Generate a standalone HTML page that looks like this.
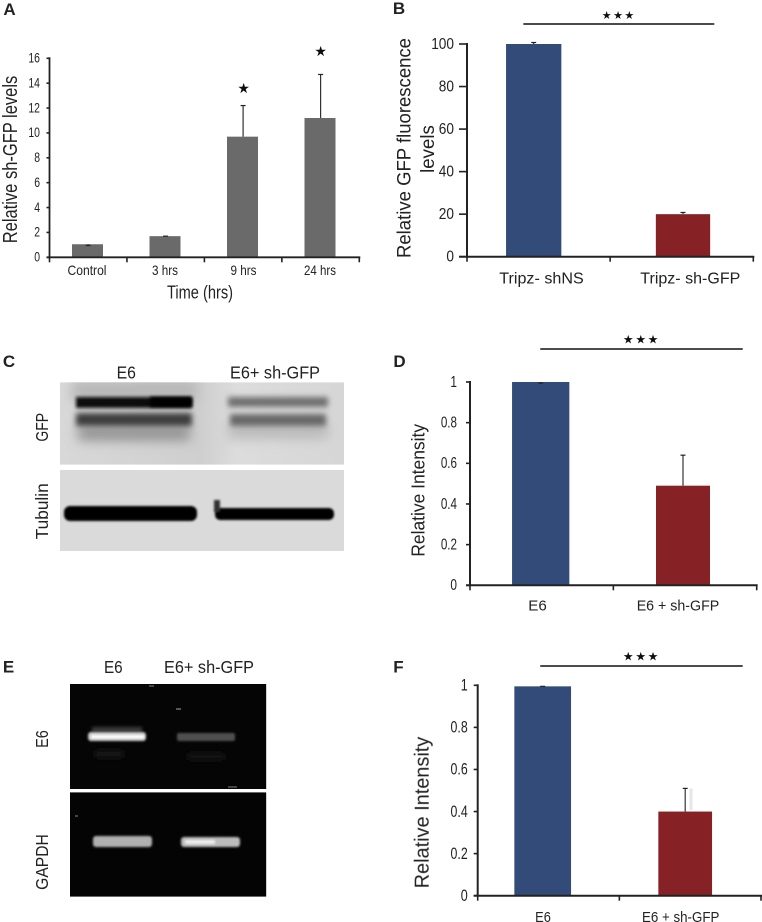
<!DOCTYPE html>
<html lang="en">
<head>
<meta charset="utf-8">
<title>sh-GFP knockdown figure</title>
<style>
html,body{margin:0;padding:0;background:#fff;}
svg{display:block;}
text{font-family:"Liberation Sans",sans-serif;fill:#222;}
</style>
</head>
<body>
<svg id="figure" xmlns="http://www.w3.org/2000/svg" width="762" height="922" viewBox="0 0 762 922">
  <defs>
    <filter id="soft" filterUnits="userSpaceOnUse" x="0" y="0" width="762" height="922"><feGaussianBlur stdDeviation="0.35"/></filter>
    <filter id="b0" filterUnits="userSpaceOnUse" x="0" y="0" width="762" height="922"><feGaussianBlur stdDeviation="1.1"/></filter>
    <filter id="b1" filterUnits="userSpaceOnUse" x="0" y="0" width="762" height="922"><feGaussianBlur stdDeviation="1.6"/></filter>
    <filter id="b2" filterUnits="userSpaceOnUse" x="0" y="0" width="762" height="922"><feGaussianBlur stdDeviation="3"/></filter>
    <filter id="b3" filterUnits="userSpaceOnUse" x="0" y="0" width="762" height="922"><feGaussianBlur stdDeviation="6"/></filter>
    <clipPath id="clipC1"><rect x="60" y="382.3" width="284" height="82.4"/></clipPath>
    <clipPath id="clipC2"><rect x="60" y="470" width="284" height="81"/></clipPath>
    <clipPath id="clipE1"><rect x="70" y="684" width="196.3" height="105"/></clipPath>
    <clipPath id="clipE2"><rect x="70" y="792.3" width="196.3" height="104.4"/></clipPath>
    <linearGradient id="c1bg" x1="0" x2="1" y1="0" y2="0">
      <stop offset="0" stop-color="#d8d8d8"/><stop offset="0.5" stop-color="#cfcfcf"/><stop offset="0.62" stop-color="#dcdcdc"/><stop offset="1" stop-color="#d6d6d6"/>
    </linearGradient>
  </defs>

  <g id="gels">
    <g clip-path="url(#clipC1)">
      <rect x="60" y="382.3" width="284" height="82.4" fill="url(#c1bg)"/>
      <rect x="72" y="380" width="125" height="22" fill="#b8b8b8" filter="url(#b3)"/>
      <rect x="78" y="426" width="112" height="14" fill="#8c8c8c" filter="url(#b3)"/>
      <rect x="228" y="424" width="100" height="14" fill="#b6b6b6" filter="url(#b3)"/>
      <rect x="76" y="413" width="116" height="13" fill="#3c3c3c" filter="url(#b2)"/>
      <rect x="76" y="397" width="116" height="11" fill="#0c0c0c" filter="url(#b1)"/>
      <rect x="150" y="397" width="42" height="10" fill="#000" filter="url(#b1)"/>
      <rect x="228" y="397" width="100" height="10" fill="#6e6e6e" filter="url(#b2)"/>
      <rect x="230" y="414" width="96" height="12" fill="#686868" filter="url(#b2)"/>
    </g>
    <g clip-path="url(#clipC2)">
      <rect x="60" y="470" width="284" height="81" fill="#dadada"/>
      <rect x="64" y="506" width="133" height="15" rx="6" fill="#000" filter="url(#b0)"/>
      <rect x="215" y="508" width="119" height="12" rx="5" fill="#000" filter="url(#b0)"/>
      <rect x="214" y="500" width="6" height="12" fill="#333" filter="url(#b0)"/>
    </g>
    <g clip-path="url(#clipE1)">
      <rect x="70" y="684" width="196.3" height="105" fill="#050505"/>
      <rect x="92" y="727" width="50" height="5" fill="#3a3a3a" filter="url(#b1)"/>
      <rect x="88" y="732" width="58" height="9" rx="3" fill="#c8c8c8" filter="url(#b0)"/>
      <rect x="91" y="735" width="53" height="3.5" fill="#fff" filter="url(#b0)"/>
      <rect x="177" y="733" width="58" height="8" rx="2" fill="#505050" filter="url(#b0)"/>
      <rect x="95" y="750" width="28" height="8" fill="#151515" filter="url(#b2)"/>
      <rect x="188" y="753" width="36" height="7" fill="#181818" filter="url(#b2)"/>
      <rect x="176" y="708" width="5" height="2" fill="#555" filter="url(#soft)"/>
      <rect x="149" y="685" width="5" height="2" fill="#444"/>
      <rect x="228" y="786" width="9" height="2" fill="#444"/>
    </g>
    <g clip-path="url(#clipE2)">
      <rect x="70" y="792.3" width="196.3" height="104.4" fill="#040404"/>
      <rect x="93" y="836" width="59" height="11" rx="3" fill="#b0b0b0" filter="url(#b0)"/>
      <rect x="181" y="837" width="59" height="10" rx="3" fill="#bcbcbc" filter="url(#b0)"/>
      <rect x="185" y="840" width="30" height="4" fill="#eeeeee" filter="url(#b0)"/>
      <rect x="75" y="815" width="3" height="2" fill="#444"/>
    </g>
  </g>

  <g id="charts" filter="url(#soft)"></g>
  <g id="labels" filter="url(#soft)"></g>
</svg>

<script>
/* Panel A */
var aCategories = ['Control', '3 hrs', '9 hrs', '24 hrs'];
var aValues = [1.05, 1.7, 9.7, 11.2];
var aErrorTops = [0.95, 1.7, 12.2, 14.7];
var aTicks = ['0', '2', '4', '6', '8', '10', '12', '14', '16'];

/* Panel B */
var bCategories = ['Tripz- shNS', 'Tripz- sh-GFP'];
var bValues = [100, 20];
var bErrorTops = [100.7, 20.8];
var bTicks = ['0', '20', '40', '60', '80', '100'];

/* Panel D */
var dCategories = ['E6', 'E6 + sh-GFP'];
var dValues = [1, 0.49];
var dErrorTops = [0.995, 0.64];
var dTicks = ['0', '0.2', '0.4', '0.6', '0.8', '1'];

/* Panel F */
var fCategories = ['E6', 'E6 + sh-GFP'];
var fValues = [0.995, 0.40];
var fErrorTops = [0.995, 0.51];
var fTicks = ['0', '0.2', '0.4', '0.6', '0.8', '1'];

var NS = 'http://www.w3.org/2000/svg';
var chartsRoot = document.getElementById('charts');
var labelsRoot = document.getElementById('labels');

function mk(parent, tag, attrs) {
  var el = document.createElementNS(NS, tag);
  for (var k in attrs) el.setAttribute(k, attrs[k]);
  parent.appendChild(el);
  return el;
}

function line(parent, x1, y1, x2, y2, color, width) {
  return mk(parent, 'line', {x1: x1, y1: y1, x2: x2, y2: y2, stroke: color, 'stroke-width': width});
}

function txt(parent, str, cx, cy, size, length, rotated, anchor, weight) {
  var attrs = {
    x: cx, y: cy, dy: '0.35em', 'font-size': size,
    'text-anchor': anchor || 'middle'
  };
  if (length) {
    attrs.textLength = length;
    attrs.lengthAdjust = 'spacingAndGlyphs';
  }
  if (rotated) attrs.transform = 'rotate(-90 ' + cx + ' ' + cy + ')';
  if (weight) attrs['font-weight'] = weight;
  var el = mk(parent, 'text', attrs);
  el.textContent = str;
  return el;
}

function drawChart(cfg) {
  var g = mk(chartsRoot, 'g', {});
  
  

  var yMax = Number(cfg.ticks[cfg.ticks.length - 1]);
  function yScale(v) { return cfg.y0 - (v / yMax) * (cfg.y0 - cfg.yTop); }
  function xScale(i) { return cfg.c0 + i * cfg.step; }

  cfg.values.forEach(function (v, i) {
    var w = cfg.barWidths[i];
    var cx = xScale(i);
    var bar = mk(g, 'rect', {
      x: cx - w / 2, y: yScale(v), width: w, height: cfg.y0 - yScale(v),
      fill: cfg.colors[i]
    });
    
    

    var ex = cx + cfg.errOffset;
    var top = yScale(cfg.errorTops[i]);
    var stem = line(g, ex, yScale(v), ex, top, '#333', 1.2);
    
    
    var cap = line(g, ex - 2.5, top, ex + 2.5, top, '#222', 1.2);
    
    

    var lab = txt(g, cfg.categories[i], cfg.labelX[i], cfg.labelY, cfg.labelSize, cfg.labelW[i]);
    
    
  });

  var yAxis = line(g, cfg.x0, cfg.yTop - 1, cfg.x0, cfg.y0 + 1, '#222', cfg.axisW);
  
  
  var xAxis = line(g, cfg.x0 - cfg.tickLen, cfg.y0, cfg.xEnd + 1, cfg.y0, '#222', cfg.axisW);
  
  

  cfg.ticks.forEach(function (t) {
    var ty = yScale(Number(t));
    var tick = line(g, cfg.x0 - cfg.tickLen, ty, cfg.x0, ty, '#222', 1.6);
    
    
    var lab = txt(g, t, cfg.tickRight, ty - 0.5, cfg.tickSize, t.length * cfg.tickCharW - (t.indexOf('.') >= 0 ? cfg.tickCharW * 0.55 : 0), false, 'end');
    
    
  });

  var n = cfg.categories.length;
  for (var i = 0; i <= n; i++) {
    var tx = cfg.x0 + (cfg.xEnd - cfg.x0) * i / n;
    var xt = line(g, tx, cfg.y0, tx, cfg.y0 + 5, '#222', 1.6);
    
    
  }
}

var BLUE = '#334b78', RED = '#862326', GREY = '#6b6b6b';

drawChart({
  name: 'chart-a-sh-gfp-levels', categories: aCategories, values: aValues, errorTops: aErrorTops, ticks: aTicks,
  x0: 49.5, xEnd: 359.3, y0: 257.3, yTop: 58.3, c0: 87.5, step: 77.5,
  barWidths: [31, 31, 31, 31], colors: [GREY, GREY, GREY, GREY], errOffset: 0.6,
  axisW: 1.8, tickLen: 3,
  tickRight: 40, tickSize: 13.5, tickCharW: 5.8,
  labelX: [87, 165, 243.5, 320], labelW: [39, 26, 26, 32], labelY: 270, labelSize: 14
});
drawChart({
  name: 'chart-b-gfp-fluorescence', categories: bCategories, values: bValues, errorTops: bErrorTops, ticks: bTicks,
  x0: 467, xEnd: 753.3, y0: 256.7, yTop: 44, c0: 533.7, step: 149.3,
  barWidths: [55.3, 54.3], colors: [BLUE, RED], errOffset: 0,
  axisW: 2, tickLen: 8,
  tickRight: 454, tickSize: 15.5, tickCharW: 7.6,
  labelX: [541.5, 690.3], labelW: [84.4, 100], labelY: 278, labelSize: 16
});
drawChart({
  name: 'chart-d-relative-intensity', categories: dCategories, values: dValues, errorTops: dErrorTops, ticks: dTicks,
  x0: 470, xEnd: 756.7, y0: 585.3, yTop: 382, c0: 540.7, step: 142.3,
  barWidths: [57.3, 54], colors: [BLUE, RED], errOffset: 0,
  axisW: 2, tickLen: 4,
  tickRight: 457, tickSize: 15.5, tickCharW: 6.6,
  labelX: [537.5, 678], labelW: [18.5, 82.6], labelY: 605, labelSize: 15
});
drawChart({
  name: 'chart-f-relative-intensity', categories: fCategories, values: fValues, errorTops: fErrorTops, ticks: fTicks,
  x0: 477.7, xEnd: 761, y0: 895.7, yTop: 685.3, c0: 542.7, step: 142.5,
  barWidths: [56.7, 53.7], colors: [BLUE, RED], errOffset: 0,
  axisW: 2, tickLen: 4,
  tickRight: 467.7, tickSize: 16.5, tickCharW: 7,
  labelX: [543, 680.7], labelW: [15.7, 77.3], labelY: 916.5, labelSize: 15
});

/* Faint ghost error line beside the panel F red bar */
var ghost = line(chartsRoot, 691, 788.5, 691, 810, '#e6e6e6', 3);



/* Significance brackets */
var brB = line(labelsRoot, 523.3, 24, 714.3, 24, '#111', 1.4);


var brD = line(labelsRoot, 540.3, 349, 742.7, 349, '#111', 1.4);


var brF = line(labelsRoot, 540.3, 666, 742.7, 666, '#111', 1.4);



var starSpots = [
  [243.7, 88, 14], [320.7, 51, 14],
  [606.7, 15, 11], [618, 15, 11], [629.3, 15, 11],
  [628.3, 339.5, 12], [640.7, 339.5, 12], [653, 339.5, 12],
  [628.3, 656.5, 12], [640.7, 656.5, 12], [653, 656.5, 12]
];
starSpots.forEach(function (s) {
  var st = mk(labelsRoot, 'text', {x: s[0], y: s[1], dy: '0.35em', 'font-size': s[2], 'text-anchor': 'middle', style: 'font-family:"DejaVu Sans",sans-serif;fill:#111'});
  st.textContent = '\u2605';
  
  
});

/* Panel letters */
var panelLetters = [['A', 9.5, 9], ['B', 399, 8], ['C', 9, 361], ['D', 399.5, 361], ['E', 8.5, 666.5], ['F', 398.5, 666.5]];
panelLetters.forEach(function (p) {
  var l = txt(labelsRoot, p[0], p[1], p[2], 17, 0, false, 'middle', 'bold');
  
  
});

/* Axis titles */
var t1 = txt(labelsRoot, 'Relative sh-GFP levels', 10, 159.5, 20, 167.5, true);


var t2 = txt(labelsRoot, 'Time (hrs)', 200, 292, 18, 66);


var t3 = txt(labelsRoot, 'Relative GFP fluorescence', 404, 148, 19, 220, true);


var t4 = txt(labelsRoot, 'levels', 427.5, 149, 19, 47.7, true);


var t5 = txt(labelsRoot, 'Relative Intensity', 418, 490.3, 18, 132.7, true);


var t6 = txt(labelsRoot, 'Relative Intensity', 421.7, 812.5, 20, 151.6, true);



/* Gel labels */
var g1 = txt(labelsRoot, 'E6', 126.3, 372.5, 17.5, 19.3);


var g2 = txt(labelsRoot, 'E6+ sh-GFP', 275, 372.5, 17.5, 90);


var g3 = txt(labelsRoot, 'GFP', 42, 427.3, 17.5, 28.7, true);


var g4 = txt(labelsRoot, 'Tubulin', 42, 511.3, 17.5, 56, true);


var g5 = txt(labelsRoot, 'E6', 113.3, 667, 17.5, 18.7);


var g6 = txt(labelsRoot, 'E6+ sh-GFP', 209, 667, 17.5, 90);


var g7 = txt(labelsRoot, 'E6', 42, 739, 17.5, 17.7, true);


var g8 = txt(labelsRoot, 'GAPDH', 42, 862, 17.5, 55.7, true);


</script>
</body>
</html>
